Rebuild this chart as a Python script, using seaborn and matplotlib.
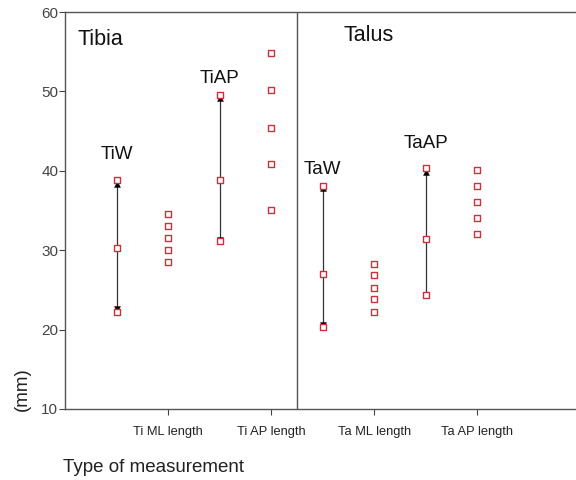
import pandas as pd
import seaborn as sns
import matplotlib.pyplot as plt

# measured lengths (mm), one column of points per measurement type
ti_ml = [34.5, 33.0, 31.5, 30.0, 28.5]
ti_ap = [54.8, 50.2, 45.4, 40.9, 35.0]
ta_ml = [28.3, 26.9, 25.2, 23.9, 22.2]
ta_ap = [40.1, 38.1, 36.1, 34.0, 32.0]
length_labels = ["Ti ML length", "Ti AP length", "Ta ML length", "Ta AP length"]

# ranges (min, mid, max) for the width / AP reference bars
range_names = ["TiW", "TiAP", "TaW", "TaAP"]
range_pos = [0.5, 1.5, 2.5, 3.5]
range_pts = [[38.9, 30.3, 22.2], [49.6, 38.9, 31.2], [38.1, 27.0, 20.3], [40.4, 31.4, 24.4]]
arrow_lo = [22.6, 31.3, 20.6, 24.4]
arrow_hi = [38.3, 49.2, 37.8, 39.8]
label_y = [42.1, 51.6, 40.1, 43.4]

rows = []
for i, vals in enumerate([ti_ml, ti_ap, ta_ml, ta_ap]):
    for v in vals:
        rows.append({"x": i + 1, "y": v})
for p, vals in zip(range_pos, range_pts):
    for v in vals:
        rows.append({"x": p, "y": v})
df = pd.DataFrame(rows)

sns.set_style("white")
plt.rcParams["font.family"] = ["Liberation Sans", "DejaVu Sans"]

fig = plt.figure(figsize=(5.76, 4.8), dpi=100)
ax = fig.add_axes([0.113, 0.148, 0.887, 0.827])

# range bars with arrow heads
ax.vlines(range_pos, arrow_lo, arrow_hi, color="#333333", lw=0.9, zorder=2)
sns.scatterplot(x=range_pos, y=arrow_hi, marker="^", color="black", s=18,
                edgecolor="black", ax=ax, zorder=3)
sns.scatterplot(x=range_pos, y=arrow_lo, marker="v", color="black", s=18,
                edgecolor="black", ax=ax, zorder=3)

sns.scatterplot(data=df, x="x", y="y", marker="s", s=14, facecolor="white",
                edgecolor="#c8323c", linewidth=1.0, ax=ax, zorder=4)

ax.axvline(2.25, color="#555555", lw=1.0)

for name, p, ly in zip(range_names, range_pos, label_y):
    ax.text(p, ly, name, ha="center", va="center", fontsize=13.5, color="#111111")
ax.text(0.125, 56.5, "Tibia", fontsize=15.5, va="center", color="#111111")
ax.text(2.70, 57.1, "Talus", fontsize=15.5, va="center", color="#111111")

ax.set_xlim(0, 4.96)
ax.set_ylim(10, 60)
ax.set_yticks([10, 20, 30, 40, 50, 60])
ax.set_xticks([1, 2, 3, 4])
ax.set_xticklabels(length_labels, fontsize=9.3, color="#222222")
ax.tick_params(axis="y", labelsize=11, length=4, left=True, color="#444444",
               labelcolor="#444444", pad=1)
ax.tick_params(axis="x", length=4, bottom=True, color="#444444", pad=8)
ax.set_xlabel("")
ax.set_ylabel("")
for s in ["left", "bottom", "top"]:
    ax.spines[s].set_color("#555555")
    ax.spines[s].set_linewidth(1.0)
ax.spines["right"].set_visible(False)

fig.text(0.038, 0.19, "(mm)", rotation=90, fontsize=13.5, ha="center", va="center",
         color="#222222")
fig.text(0.11, 0.027, "Type of measurement", fontsize=13.5, ha="left", va="center",
         color="#222222")

plt.savefig("out.png", dpi=100)
